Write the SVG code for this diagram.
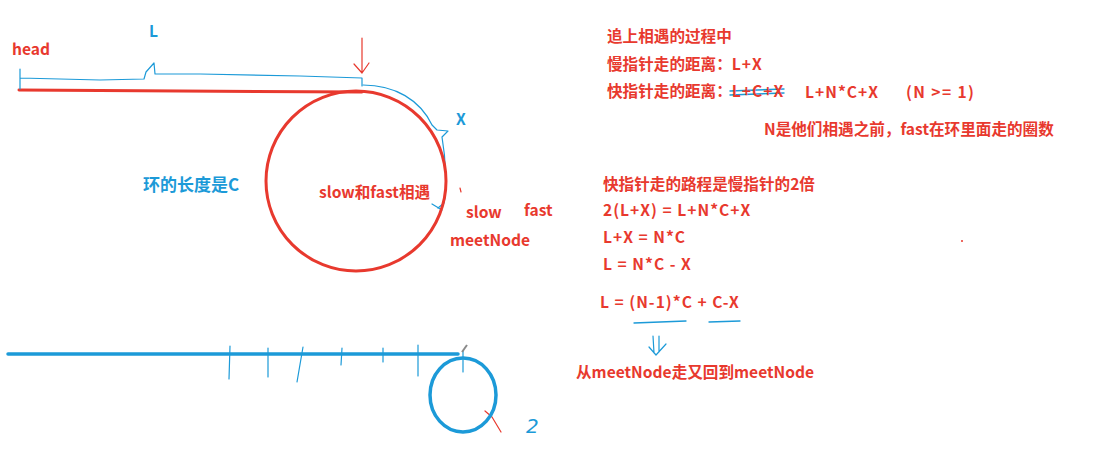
<svg xmlns="http://www.w3.org/2000/svg" width="1109" height="458" viewBox="0 0 1109 458">
<style>
.t{font-family:"Noto Sans CJK SC","Noto Sans",sans-serif;font-weight:bold;font-size:15.6px}
.f{letter-spacing:1px}
.r{fill:#e8392e}
.b{fill:#1c9ad8}
.sr{stroke:#e8392e;fill:none;stroke-linecap:round;stroke-linejoin:round}
.sb{stroke:#1c9ad8;fill:none;stroke-linecap:round;stroke-linejoin:round}
</style>
<rect width="1109" height="458" fill="#ffffff"/>
<g id="connectors">
<path class="sr" stroke-width="3" d="M19 90 L180 91 L362 92"/>
<path class="sr" stroke-width="1.2" d="M362 38 L362 72 M354 64 L362 73 L369 63"/>
<path class="sb" stroke-width="1.2" d="M20 69 L20 89 M20 78 L100 80 L144 79 L146 72 L154 63 L155 74 L200 74 L300 76 L362 78 L362 86"/>
<path class="sb" stroke-width="1.2" d="M363 85 C395 85 420 100 432 125 L437 130 L448 131 L442 137 C446 160 447 190 444 203 L438 208"/>
<path class="sb" stroke-width="1.2" d="M432 204 L442 210"/>
<path class="sr" stroke-width="1.2" d="M460 188 L461 192"/>
<path class="sb" stroke-width="1.4" d="M730 91 L784 89 M730 95 L784 93"/>
<path class="sb" stroke-width="1.3" d="M634 323 L660 322 L686 321 M709 322 L740 321"/>
<path class="sb" stroke-width="1.2" d="M653 336 L654 353 M659 336 L659 352 M649 347 L656 355 L666 344"/>
<path class="sb" stroke-width="3.5" d="M8 354 L458 354"/>
<path class="sb" stroke-width="1.2" d="M230 346 L229 379 M268 348 L268 377 M303 347 L297 382 M342 348 L341 365 M383 348 L383 362 M418 345 L418 376 M463 351 L463 372"/>
<path stroke="#8a8a8a" stroke-width="2" fill="none" d="M462 352 L467 345"/>
<path class="sr" stroke-width="1.2" d="M485 411 L492 417 L501 432"/>
<circle cx="962" cy="241" r="1" fill="#e8392e"/>
<circle cx="721" cy="178" r="0.8" fill="#1c9ad8"/>
</g>
<g id="loop">
<ellipse cx="356" cy="181" rx="90" ry="90" class="sr" stroke-width="3"/>
</g>
<g id="loop2">
<ellipse cx="463" cy="395" rx="33" ry="37" class="sb" stroke-width="3.5"/>
</g>
<g id="labels">
<text class="t r" x="12" y="55">head</text>
<text class="t b" x="149" y="37">L</text>
<text class="t b" x="456" y="125">X</text>
<text class="t b" x="143" y="191" style="font-size:17px">环的长度是C</text>
<text class="t r" x="319" y="198">slow和fast相遇</text>
<text class="t r" x="466" y="218">slow</text>
<text class="t r" x="524" y="216">fast</text>
<text class="t r" x="450" y="246">meetNode</text>
<text x="526" y="433" fill="#1c9ad8" style="font-family:'DejaVu Sans',sans-serif;font-size:20px;font-style:italic">2</text>
</g>
<g id="formulas">
<text class="t r" x="607" y="42">追上相遇的过程中</text>
<text class="t r" x="607" y="70">慢指针走的距离：<tspan class="f">L+X</tspan></text>
<text class="t r" x="607" y="97">快指针走的距离：<tspan class="f">L+C+X</tspan></text>
<text class="t r f" x="805" y="98">L+N*C+X</text>
<text class="t r" x="906" y="98" style="letter-spacing:1.4px">(N &gt;= 1)</text>
<text class="t r" x="764" y="135">N是他们相遇之前，fast在环里面走的圈数</text>
<text class="t r" x="603" y="190">快指针走的路程是慢指针的2倍</text>
<text class="t r f" x="603" y="216">2(L+X) = L+N*C+X</text>
<text class="t r f" x="603" y="243">L+X = N*C</text>
<text class="t r f" x="603" y="270">L = N*C - X</text>
<text class="t r f" x="600" y="308">L = (N-1)*C + C-X</text>
<text class="t r" x="576" y="378">从meetNode走又回到meetNode</text>
</g>
</svg>
